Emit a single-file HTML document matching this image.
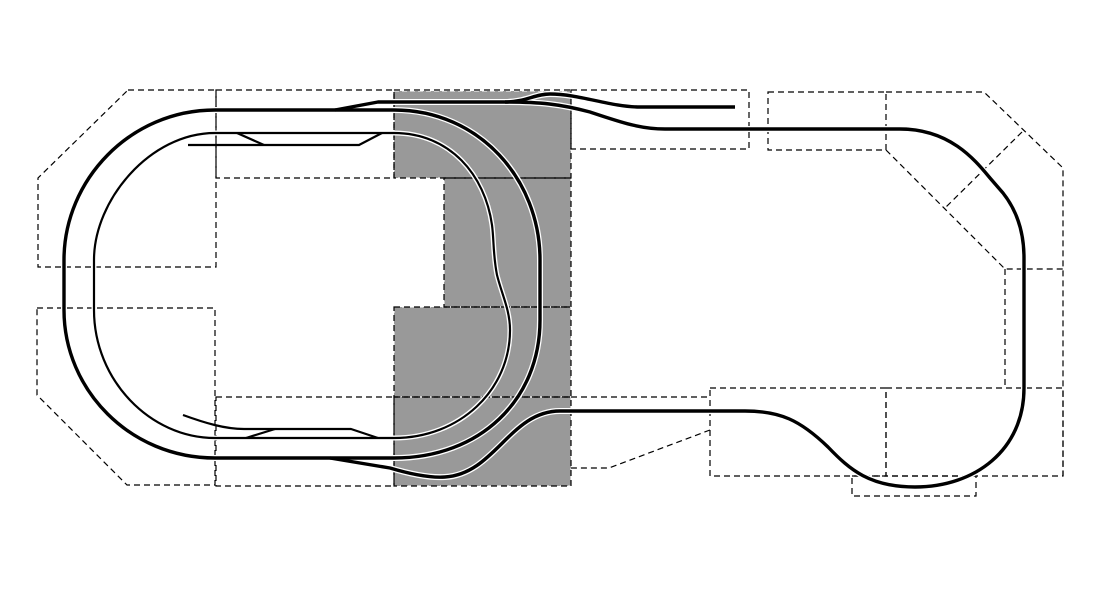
<!DOCTYPE html>
<html><head><meta charset="utf-8"><style>html,body{margin:0;padding:0;background:#fff}svg{display:block}</style></head>
<body>
<svg width="1111" height="604" viewBox="0 0 1111 604" xmlns="http://www.w3.org/2000/svg">
<rect width="1111" height="604" fill="#fff"/>
<g fill="#999" stroke="#fff" stroke-width="1" stroke-dasharray="5,3">
<rect x="394" y="91" width="177" height="87"/>
<rect x="444" y="178" width="127" height="129"/>
<rect x="394" y="307" width="177" height="90"/>
<rect x="394" y="397" width="177" height="89"/>
</g>
<g fill="none" stroke="#000" stroke-width="1.2" stroke-dasharray="6,4">
<rect x="394" y="90" width="177" height="88"/>
<rect x="444" y="178" width="127" height="129"/>
<rect x="394" y="307" width="177" height="90"/>
<rect x="394" y="397" width="177" height="89"/>
<polygon points="128,90 216,90 216,267 38,267 38,178"/>
<rect x="216" y="90" width="178" height="88"/>
<polygon points="37,308 215,308 215,485 127,485 37,395"/>
<rect x="216" y="397" width="178" height="89"/>
<rect x="571" y="90" width="178" height="59"/>
<rect x="768" y="92" width="118" height="58"/>
<polyline points="886,92 984,92 1063,168 1063,476"/>
<polyline points="886,150 1005,269 1063,269"/>
<line x1="1005" y1="269" x2="1005" y2="388"/>
<line x1="1022" y1="132" x2="945" y2="208"/>
<rect x="886" y="388" width="177" height="88"/>
<rect x="710" y="388" width="176" height="88"/>
<rect x="852" y="476" width="124" height="20"/>
<polyline points="571,397 710,397"/>
<polyline points="710,430 609,468 571,468"/>
</g>
<g fill="none" stroke="#fff" stroke-linejoin="round">
<path stroke-width="6" d="M394,110 H215 C130,110 64,180 64,260 V310 C64,390 130,458 215,458 H394"/>
<path stroke-width="6" d="M394,110 C480,110 540,180 540,260 V320 C540,400 480,458 394,458"/>
<path stroke-width="6" d="M335,110 L378,102 H505 C525,102 535,94 550,94 C580,94 610,107 640,107 H735"/>
<path stroke-width="6" d="M505,102 C540,102 560,104 590,112 C620,122 640,129 665,129 H900 C950,129 975,160 990,178 L1003,193 C1018,212 1024,235 1024,258 V388 C1024,450 975,487 915,487 C870,487 850,470 828,447 C800,420 780,411 745,411 H571"/>
<path stroke-width="6" d="M330,458 L390,468 C410,474 430,478 445,477 C495,474 510,411 560,411 H571"/>
<path stroke-width="5" d="M394,133 H215 C150,133 94,200 94,260 V310 C94,380 150,438 215,438 H394"/>
<path stroke-width="5" d="M394,133 C450,133 485,175 492,225 C494,240 493,255 497,275 C502,295 510,310 510,330 C510,390 460,438 394,438"/>
</g>
<g fill="none" stroke="#000" stroke-linejoin="round">
<path stroke-width="3.4" d="M394,110 H215 C130,110 64,180 64,260 V310 C64,390 130,458 215,458 H394"/>
<path stroke-width="3.4" d="M394,110 C480,110 540,180 540,260 V320 C540,400 480,458 394,458"/>
<path stroke-width="3.4" d="M335,110 L378,102 H505 C525,102 535,94 550,94 C580,94 610,107 640,107 H735"/>
<path stroke-width="3.4" d="M505,102 C540,102 560,104 590,112 C620,122 640,129 665,129 H900 C950,129 975,160 990,178 L1003,193 C1018,212 1024,235 1024,258 V388 C1024,450 975,487 915,487 C870,487 850,470 828,447 C800,420 780,411 745,411 H571"/>
<path stroke-width="3.4" d="M330,458 L390,468 C410,474 430,478 445,477 C495,474 510,411 560,411 H571"/>
<path stroke-width="2.2" d="M394,133 H215 C150,133 94,200 94,260 V310 C94,380 150,438 215,438 H394"/>
<path stroke-width="2.2" d="M394,133 C450,133 485,175 492,225 C494,240 493,255 497,275 C502,295 510,310 510,330 C510,390 460,438 394,438"/>
<path stroke-width="2.2" d="M188,145 H359 L382,133"/>
<path stroke-width="2.2" d="M237,133 L264,145"/>
<path stroke-width="2.2" d="M183,415 C205,423 225,429 244,429 H351 L378,438"/>
<path stroke-width="2.2" d="M246,438 L275,429"/>
</g>
</svg>
</body></html>
